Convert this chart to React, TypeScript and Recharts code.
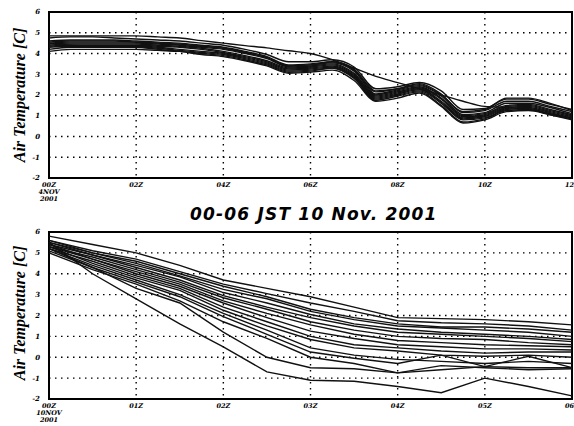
import { LineChart, Line, XAxis, YAxis, CartesianGrid, ReferenceArea } from "recharts";

// upper panel: 00Z-12Z, half-hour samples
const topHours = [0, 0.5, 1, 1.5, 2, 2.5, 3, 3.5, 4, 4.5, 5, 5.5, 6, 6.5, 7, 7.5, 8, 8.5, 9, 9.5, 10, 10.5, 11, 11.5, 12];
const topUpper = [4.85, 4.85, 4.85, 4.85, 4.85, 4.8, 4.75, 4.62, 4.5, 4.38, 4.27, 4.13, 4.0, 3.7, 3.3, 2.9, 2.6, 2.3, 2.0, 1.7, 1.45, 1.4, 1.3, 1.1, 0.9];
const topBand1 = [4.75, 4.8, 4.8, 4.75, 4.7, 4.65, 4.6, 4.5, 4.4, 4.2, 3.95, 3.6, 3.6, 3.7, 3.35, 2.3, 2.4, 2.6, 2.2, 1.3, 1.35, 1.8, 1.8, 1.55, 1.3];
const topBand2 = [4.6, 4.65, 4.65, 4.65, 4.6, 4.55, 4.5, 4.4, 4.3, 4.1, 3.85, 3.45, 3.5, 3.6, 3.2, 2.15, 2.3, 2.55, 2.05, 1.15, 1.25, 1.7, 1.7, 1.45, 1.2];
const topBand3 = [4.5, 4.55, 4.55, 4.55, 4.55, 4.5, 4.45, 4.35, 4.25, 4.05, 3.8, 3.4, 3.45, 3.55, 3.15, 2.05, 2.25, 2.45, 1.95, 1.05, 1.15, 1.6, 1.6, 1.4, 1.1];
const topBand4 = [4.45, 4.5, 4.5, 4.5, 4.5, 4.45, 4.4, 4.3, 4.2, 4.0, 3.75, 3.35, 3.4, 3.5, 3.05, 2.0, 2.2, 2.4, 1.85, 1.0, 1.1, 1.5, 1.55, 1.3, 1.05];
const topBand5 = [4.4, 4.45, 4.45, 4.45, 4.45, 4.4, 4.35, 4.25, 4.1, 3.9, 3.65, 3.3, 3.35, 3.45, 3.0, 1.95, 2.15, 2.35, 1.8, 0.95, 1.05, 1.45, 1.5, 1.25, 1.0];
const topBand6 = [4.35, 4.4, 4.4, 4.4, 4.4, 4.35, 4.3, 4.2, 4.05, 3.85, 3.6, 3.25, 3.3, 3.4, 2.95, 1.9, 2.1, 2.3, 1.7, 0.9, 1.0, 1.4, 1.45, 1.2, 0.95];
const topBand7 = [4.3, 4.35, 4.35, 4.35, 4.35, 4.3, 4.2, 4.1, 4.0, 3.8, 3.55, 3.2, 3.25, 3.35, 2.9, 1.85, 2.05, 2.25, 1.65, 0.85, 0.95, 1.35, 1.4, 1.15, 0.9];
const topBand8 = [4.2, 4.3, 4.3, 4.3, 4.3, 4.25, 4.15, 4.05, 3.95, 3.75, 3.5, 3.15, 3.2, 3.3, 2.85, 1.8, 2.0, 2.2, 1.6, 0.8, 0.9, 1.3, 1.35, 1.1, 0.85];
const topBand9 = [4.1, 4.2, 4.2, 4.2, 4.2, 4.15, 4.1, 4.0, 3.9, 3.7, 3.45, 3.1, 3.15, 3.3, 2.8, 1.75, 1.95, 2.15, 1.5, 0.7, 0.85, 1.25, 1.3, 1.05, 0.8];
const topBand10 = [4.5, 4.4, 4.35, 4.3, 4.3, 4.2, 4.1, 3.95, 3.85, 3.65, 3.4, 3.05, 3.1, 3.2, 2.7, 1.7, 1.85, 2.1, 1.45, 0.65, 0.8, 1.2, 1.25, 1.05, 0.85];
const topBand11 = [4.55, 4.6, 4.6, 4.6, 4.55, 4.5, 4.45, 4.35, 4.25, 4.05, 3.8, 3.4, 3.45, 3.6, 3.25, 2.2, 2.3, 2.5, 2.0, 1.2, 1.3, 1.85, 1.85, 1.6, 1.25];

// lower panel: 00-06 JST, half-hour samples
const bottomHours = [0, 0.5, 1, 1.5, 2, 2.5, 3, 3.5, 4, 4.5, 5, 5.5, 6];
const bottomLine1 = [5.8, 5.4, 5.0, 4.4, 3.7, 3.3, 2.9, 2.4, 1.9, 1.85, 1.8, 1.7, 1.55];
const bottomLine2 = [5.6, 5.1, 4.7, 4.1, 3.5, 3.05, 2.6, 2.2, 1.75, 1.65, 1.6, 1.5, 1.3];
const bottomLine3 = [5.5, 5.0, 4.6, 4.0, 3.4, 2.9, 2.3, 1.9, 1.6, 1.45, 1.45, 1.35, 1.2];
const bottomLine4 = [5.6, 5.0, 4.5, 3.9, 3.25, 2.8, 2.2, 1.8, 1.5, 1.4, 1.3, 1.2, 1.0];
const bottomLine5 = [5.4, 4.9, 4.4, 3.85, 3.1, 2.6, 2.05, 1.6, 1.35, 1.2, 1.1, 1.0, 0.85];
const bottomLine6 = [5.5, 4.9, 4.3, 3.7, 2.95, 2.4, 1.9, 1.5, 1.2, 1.1, 1.0, 0.9, 0.75];
const bottomLine7 = [5.3, 4.8, 4.2, 3.6, 2.85, 2.3, 1.7, 1.3, 1.0, 0.9, 0.85, 0.7, 0.6];
const bottomLine8 = [5.4, 4.7, 4.1, 3.5, 2.7, 2.1, 1.55, 1.1, 0.8, 0.7, 0.6, 0.55, 0.5];
const bottomLine9 = [5.3, 4.7, 4.0, 3.4, 2.6, 1.9, 1.25, 0.9, 0.6, 0.5, 0.4, 0.4, 0.35];
const bottomLine10 = [5.2, 4.6, 3.9, 3.3, 2.4, 1.7, 1.0, 0.6, 0.45, 0.3, 0.2, 0.25, 0.25];
const bottomLine11 = [5.3, 4.5, 3.8, 3.2, 2.25, 1.5, 0.85, 0.45, 0.3, 0.1, 0.05, 0.1, 0.0];
const bottomLine12 = [5.2, 4.4, 3.7, 3.0, 2.1, 1.3, 0.45, 0.1, -0.1, -0.2, -0.3, -0.2, -0.3];
const bottomLine13 = [5.1, 4.3, 3.6, 2.9, 1.95, 1.1, 0.25, -0.05, -0.3, 0.1, -0.45, 0.05, -0.5];
const bottomLine14 = [5.0, 4.2, 3.5, 2.7, 1.7, 0.9, 0.0, -0.3, -0.75, -0.4, -0.5, -0.6, -0.55];
const bottomLine15 = [5.2, 4.3, 3.3, 2.6, 1.2, 0.0, -0.5, -0.55, -0.75, -0.6, -0.45, -0.5, -0.5];
const bottomLine16 = [5.5, 4.0, 2.8, 1.6, 0.5, -0.7, -1.1, -1.15, -1.4, -1.7, -1.0, -1.4, -1.85];

const topTicks = [0, 2, 4, 6, 8, 10, 12];
const topTickLabels = ["00Z 4NOV 2001", "02Z", "04Z", "06Z", "08Z", "10Z", "12Z"];
const bottomTicks = [0, 1, 2, 3, 4, 5, 6];
const bottomTickLabels = ["00Z 10NOV 2001", "01Z", "02Z", "03Z", "04Z", "05Z", "06Z"];
const tempTicks = [-2, -1, 0, 1, 2, 3, 4, 5, 6];

const topSeries = [topUpper, topBand1, topBand2, topBand3, topBand4, topBand5, topBand6, topBand7, topBand8, topBand9, topBand10, topBand11];
const bottomSeries = [bottomLine1, bottomLine2, bottomLine3, bottomLine4, bottomLine5, bottomLine6, bottomLine7, bottomLine8,
  bottomLine9, bottomLine10, bottomLine11, bottomLine12, bottomLine13, bottomLine14, bottomLine15, bottomLine16];

function toRows(hours: number[], series: number[][]) {
  return hours.map((t, i) => {
    const row: Record<string, number> = { t };
    series.forEach((s, k) => (row["s" + k] = s[i]));
    return row;
  });
}

const topRows = toRows(topHours, topSeries);
const bottomRows = toRows(bottomHours, bottomSeries);

const tickFont = { fontSize: 7, fontWeight: "bold", fontStyle: "italic", fontFamily: "DejaVu Serif", fill: "#000" } as const;

function HourTick(props: any) {
  const { x, y, payload, ticks, labels } = props;
  const label: string = labels[ticks.indexOf(payload.value)] ?? "";
  const parts = label.split(" ");
  return (
    <text x={x} y={y + 1} textAnchor="middle" {...tickFont} fontSize={6.5}>
      {parts.map((p, i) => (
        <tspan key={i} x={x} dy={i === 0 ? 0 : 7}>{p}</tspan>
      ))}
    </text>
  );
}

function Panel({ rows, count, maxHour, ticks, labels, height, xHeight, curve }: any) {
  return (
    <LineChart width={574} height={height} data={rows} margin={{ top: 12, right: 2, left: 0, bottom: 0 }}>
      <CartesianGrid stroke="#000" strokeWidth={1.4} strokeDasharray="1.5 4.5" />
      <XAxis
        dataKey="t"
        type="number"
        domain={[0, maxHour]}
        ticks={ticks}
        height={xHeight}
        axisLine={false}
        tickLine={false}
        interval={0}
        tick={(p: any) => <HourTick {...p} ticks={ticks} labels={labels} />}
      />
      <YAxis
        type="number"
        domain={[-2, 6]}
        ticks={tempTicks}
        width={49}
        axisLine={false}
        tickLine={false}
        interval={0}
        tick={tickFont}
        tickMargin={3}
      />
      {Array.from({ length: count }, (_, k) => (
        <Line
          key={k}
          dataKey={"s" + k}
          type={curve}
          stroke="#111"
          strokeWidth={1.4}
          dot={false}
          isAnimationActive={false}
        />
      ))}
      <ReferenceArea x1={0} x2={maxHour} y1={-2} y2={6} fill="none" stroke="#000" strokeWidth={2} />
    </LineChart>
  );
}

const yLabelStyle = {
  position: "absolute" as const,
  width: 170,
  height: 20,
  lineHeight: "20px",
  textAlign: "center" as const,
  transform: "rotate(-90deg)",
  fontFamily: "Liberation Serif",
  fontStyle: "italic",
  fontWeight: "bold",
  fontSize: 16,
  color: "#000",
  whiteSpace: "nowrap" as const,
};

export default function App() {
  return (
    <div style={{ position: "absolute", left: 0, top: 0, width: 574, height: 426, background: "#fff", overflow: "hidden" }}>
      <div style={{ position: "absolute", left: 0, top: 0 }}>
        <Panel rows={topRows} count={topSeries.length} maxHour={12} ticks={topTicks} labels={topTickLabels} height={210} xHeight={32} curve="monotone" />
      </div>
      <div style={{ position: "absolute", left: 0, top: 220 }}>
        <Panel rows={bottomRows} count={bottomSeries.length} maxHour={6} ticks={bottomTicks} labels={bottomTickLabels} height={206} xHeight={27} curve="linear" />
      </div>
      <div style={{ ...yLabelStyle, left: 20 - 85, top: 95 - 10 }}>Air Temperature [C]</div>
      <div style={{ ...yLabelStyle, left: 20 - 85, top: 313 - 10 }}>Air Temperature [C]</div>
      <div
        style={{
          position: "absolute",
          left: 190,
          top: 204,
          fontFamily: "DejaVu Sans",
          fontStyle: "italic",
          fontWeight: "bold",
          fontSize: 17,
          letterSpacing: 1.2,
          whiteSpace: "nowrap",
          color: "#000",
        }}
      >
        00-06 JST 10 Nov. 2001
      </div>
    </div>
  );
}
